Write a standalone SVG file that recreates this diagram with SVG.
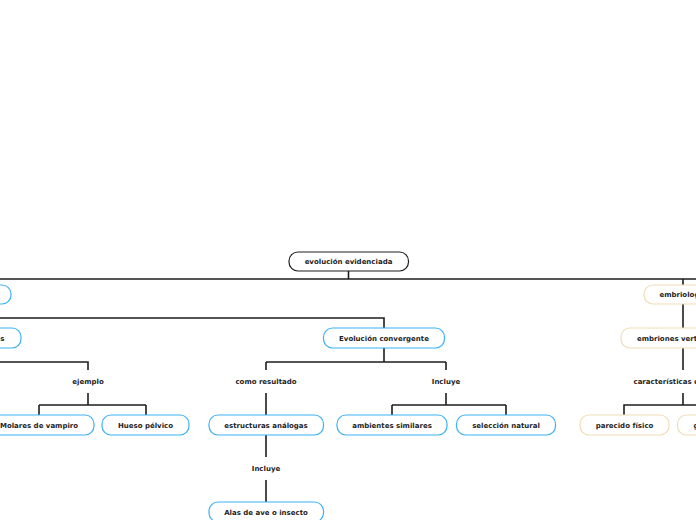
<svg xmlns="http://www.w3.org/2000/svg" width="696" height="520" viewBox="0 0 696 520">
<style>
text{font-family:"DejaVu Sans","Verdana",sans-serif;font-weight:bold;font-size:7px;fill:#1e1e1e}
.m{text-anchor:middle}
.e{text-anchor:end}
.box{fill:#fff;stroke-width:1.2}
.root{stroke:#1e1e1e}
.blue{stroke:#3bb2f6}
.tan{stroke:#f0ddb6}
.c path{fill:none;stroke:#1e1e1e;stroke-width:1.6}
</style>
<rect width="696" height="520" fill="#fff"/>
<g class="c" id="connectors">
<path d="M348.5 271V279M0 279H696M683 279V285"/>
<path d="M0 318H384V328"/>
<path d="M683 304V328M683 348V370M683 393V405H624V415M683 405H742"/>
<path d="M0 362H88V370M88 393V405M39 405H146M39 405V415M146 405V415"/>
<path d="M384 348V362M266 362H446M266 362V370M446 362V370"/>
<path d="M266 393V415M266 435V457M266 480V502"/>
<path d="M446 393V405M392 405H506M392 405V415M506 405V415"/>
</g>
<g id="n-root"><rect class="box root" x="289" y="252" width="119.5" height="19" rx="9"/><text class="m" x="348.5" y="264">evolución evidenciada</text></g>
<g id="n-left"><rect class="box blue" x="-80" y="285" width="91" height="19" rx="9"/></g>
<g id="n-homologas"><rect class="box blue" x="-100" y="328" width="121" height="20" rx="9"/><text class="e" x="4.5" y="340.5">estructuras homólogas</text></g>
<g id="n-convergente"><rect class="box blue" x="323.5" y="328" width="121" height="20" rx="9"/><text class="m" x="384" y="340.5">Evolución convergente</text></g>
<g id="n-ejemplo"><text class="m" x="88" y="383.5">ejemplo</text></g>
<g id="n-molares"><rect class="box blue" x="-16" y="415" width="110" height="20" rx="9"/><text class="m" x="39" y="427.5">Molares de vampiro</text></g>
<g id="n-hueso"><rect class="box blue" x="102" y="415" width="87" height="20" rx="9"/><text class="m" x="145.5" y="427.5">Hueso pélvico</text></g>
<g id="n-resultado"><text class="m" x="266" y="383.5">como resultado</text></g>
<g id="n-incluye1"><text class="m" x="446" y="383.5">Incluye</text></g>
<g id="n-analogas"><rect class="box blue" x="209" y="415" width="114.5" height="20" rx="9"/><text class="m" x="266" y="427.5">estructuras análogas</text></g>
<g id="n-incluye2"><text class="m" x="266" y="470.5">Incluye</text></g>
<g id="n-alas"><rect class="box blue" x="209" y="502" width="114.5" height="20" rx="9"/><text class="m" x="266" y="514.5">Alas de ave o insecto</text></g>
<g id="n-ambientes"><rect class="box blue" x="337" y="415" width="110" height="20" rx="9"/><text class="m" x="392" y="427.5">ambientes similares</text></g>
<g id="n-seleccion"><rect class="box blue" x="456.5" y="415" width="99" height="20" rx="9"/><text class="m" x="506" y="427.5">selección natural</text></g>
<g id="n-embriologia"><rect class="box tan" x="644" y="285" width="78" height="19" rx="9"/><text class="m" x="683" y="297">embriología</text></g>
<g id="n-embriones"><rect class="box tan" x="621" y="328" width="124" height="20" rx="9"/><text class="m" x="683" y="340.5">embriones vertebrados</text></g>
<g id="n-caracteristicas"><text x="633.5" y="383.5">características en común</text></g>
<g id="n-parecido"><rect class="box tan" x="580" y="415" width="89" height="20" rx="9"/><text class="m" x="624.5" y="427.5">parecido físico</text></g>
<g id="n-g"><rect class="box tan" x="677.5" y="415" width="90" height="20" rx="9"/><text x="693.5" y="427.5">genes</text></g>
</svg>
